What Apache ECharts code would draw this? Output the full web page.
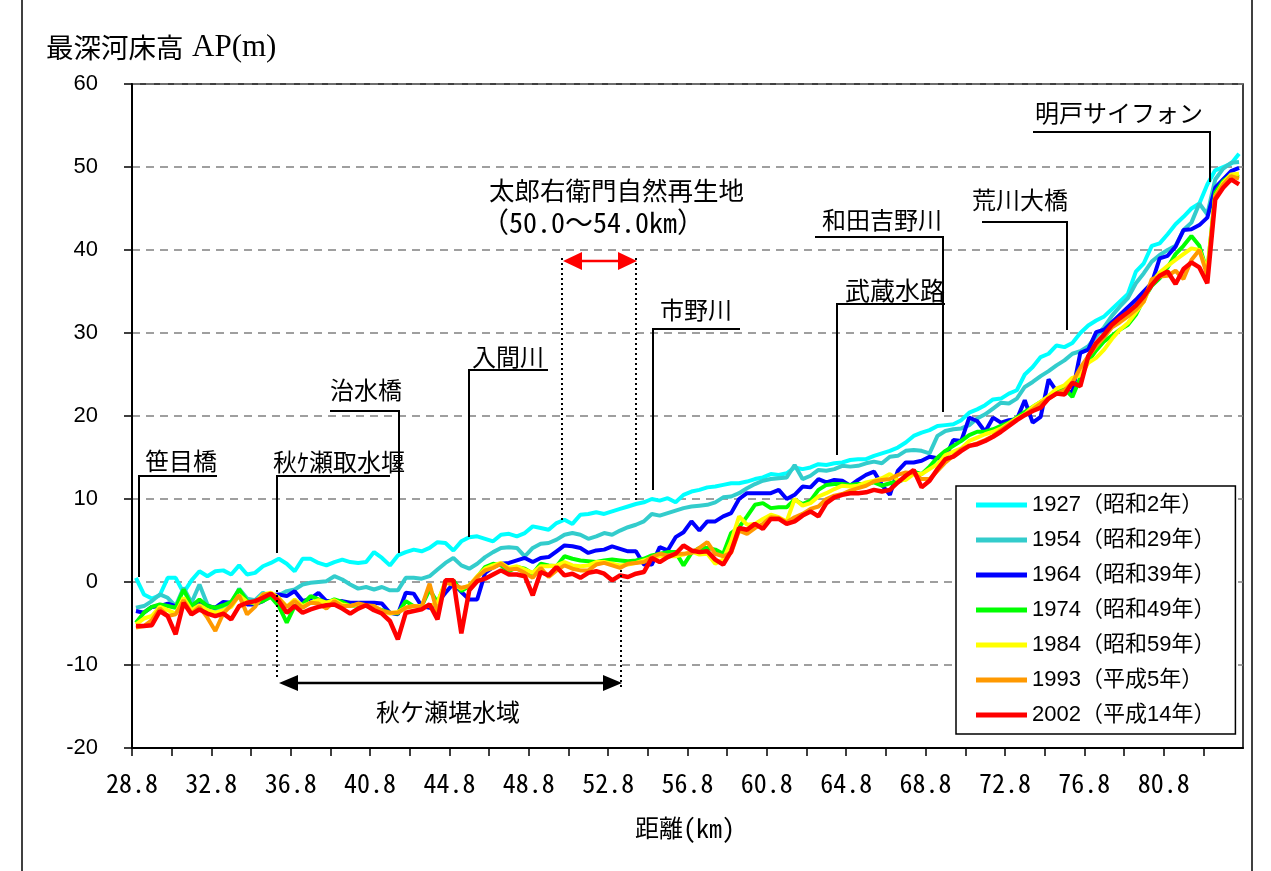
<!DOCTYPE html>
<html><head><meta charset="utf-8">
<script src="https://cdn.jsdelivr.net/npm/echarts/dist/echarts.min.js"></script>
<style>html,body{margin:0;padding:0;background:#fff}#chart{width:1271px;height:871px}</style>
</head><body><div id="chart"></div>
<script>
// distance along the river (km)
const km = [29.0,29.4,29.8,30.2,30.6,31.0,31.4,31.8,32.2,32.6,33.0,33.4,33.8,34.2,34.6,35.0,35.4,35.8,36.2,36.6,37.0,37.4,37.8,38.2,38.6,
39.0,39.4,39.8,40.2,40.6,41.0,41.4,41.8,42.2,42.6,43.0,43.4,43.8,44.2,44.6,45.0,45.4,45.8,46.2,46.6,47.0,47.4,47.8,48.2,48.6,49.0,49.4,
49.8,50.2,50.6,51.0,51.4,51.8,52.2,52.6,53.0,53.4,53.8,54.2,54.6,55.0,55.4,55.8,56.2,56.6,57.0,57.4,57.8,58.2,58.6,59.0,59.4,59.8,
60.2,60.6,61.0,61.4,61.8,62.2,62.6,63.0,63.4,63.8,64.2,64.6,65.0,65.4,65.8,66.2,66.6,67.0,67.4,67.8,68.2,68.6,69.0,69.4,69.8,70.2,70.6,
71.0,71.4,71.8,72.2,72.6,73.0,73.4,73.8,74.2,74.6,75.0,75.4,75.8,76.2,76.6,77.0,77.4,77.8,78.2,78.6,79.0,79.4,79.8,80.2,80.6,81.0,81.4,81.8,82.2,82.6,83.0,83.4,83.8,84.2,84.6];

const y1927 = [0.5,-1.5,-2.0,-1.6,0.5,0.5,-1.3,0.2,1.3,0.7,1.3,1.4,0.9,2.0,0.9,1.1,1.9,2.3,2.8,2.2,1.3,2.8,2.8,2.3,2.0,
2.4,2.7,2.4,2.3,2.4,3.6,2.9,2.0,3.2,3.6,3.9,3.7,4.1,4.8,4.7,3.8,4.9,5.4,5.5,5.2,4.9,5.7,5.8,5.5,5.9,6.7,6.5,
6.3,7.1,7.5,7.0,8.1,8.2,8.4,8.2,8.5,8.8,9.1,9.4,9.6,10.0,9.8,10.1,9.6,10.5,10.9,11.1,11.4,11.5,11.7,11.9,11.9,12.1,
12.4,12.6,13.0,12.9,13.1,13.8,13.6,13.8,14.2,14.1,14.3,14.4,14.7,14.8,14.8,15.2,15.5,15.8,16.2,16.8,17.6,18.0,18.3,18.8,18.9,19.0,19.5,
20.4,20.8,21.3,22.0,22.1,22.7,23.1,25.0,25.9,27.1,27.5,28.5,28.3,28.8,30.0,30.9,31.5,32.0,32.9,33.8,34.7,37.4,38.4,40.5,40.8,41.9,43.1,44.0,45.0,45.6,47.9,49.6,50.0,50.4,51.6];

const y1954 = [-3.1,-2.9,-2.3,-1.5,-1.9,-2.9,-0.7,-2.5,-0.3,-2.7,-3.5,-3.0,-2.6,-0.8,-2.0,-2.2,-1.3,-1.8,-1.6,-1.1,-0.9,-0.3,-0.1,0.0,0.1,
0.7,0.3,-0.3,-0.8,-0.6,-0.9,-0.6,-1.0,-1.0,0.5,0.5,0.4,0.7,1.5,2.3,2.9,2.0,1.6,2.2,3.0,3.6,4.1,4.2,4.1,3.1,4.1,4.6,
4.7,5.1,5.7,5.9,5.7,5.2,5.5,5.9,5.7,6.2,6.6,6.9,7.3,8.2,8.0,8.3,8.6,8.9,9.1,9.2,9.3,9.6,10.2,10.3,10.7,11.3,
11.8,12.2,12.4,12.5,12.6,14.1,12.4,12.8,13.5,13.4,13.6,14.0,13.9,14.0,14.3,14.5,14.3,15.1,15.2,15.8,15.9,15.8,15.5,17.6,18.2,18.4,18.5,
18.9,19.7,20.2,20.9,21.6,21.5,22.1,23.5,24.1,24.8,25.4,26.1,26.7,27.5,27.8,28.4,29.6,30.7,32.1,33.2,34.2,36.0,37.2,38.6,39.4,40.0,40.5,42.4,43.3,45.6,44.3,48.5,49.8,50.5,50.6];

const y1964 = [-3.5,-3.7,-3.0,-2.9,-2.6,-2.9,-2.7,-3.1,-2.4,-2.9,-3.1,-2.4,-2.5,-1.7,-2.7,-2.7,-2.3,-1.6,-1.5,-1.7,-1.1,-2.3,-2.0,-1.3,-2.3,
-2.3,-2.3,-2.5,-2.5,-2.5,-2.5,-2.6,-3.7,-3.9,-1.3,-1.4,-2.9,-3.1,-2.5,-1.3,-0.2,-1.2,-2.1,-2.1,1.1,1.8,2.2,2.3,2.6,2.9,2.4,2.9,
3.0,3.7,4.4,4.3,4.1,3.5,3.8,3.9,4.3,4.0,3.7,3.7,2.1,2.1,4.2,3.8,5.4,6.0,7.3,6.2,7.3,7.3,7.9,8.3,10.0,10.7,
10.7,10.7,10.7,11.1,10.0,10.5,11.5,11.4,12.4,12.0,12.3,12.2,11.6,12.3,12.9,13.3,11.7,10.5,13.4,14.4,14.4,14.6,15.1,14.9,15.0,17.1,17.0,
19.8,19.4,18.1,19.8,19.2,19.5,19.6,21.9,19.2,19.9,24.4,23.0,23.1,22.8,27.6,28.0,30.1,30.4,31.3,32.2,33.1,34.0,35.0,36.0,39.0,39.3,40.4,42.4,42.5,43.0,43.9,47.5,48.5,49.5,49.9];

const y1974 = [-4.9,-3.7,-3.0,-2.7,-2.9,-3.1,-0.9,-2.9,-2.1,-2.9,-3.1,-2.8,-2.4,-0.9,-2.3,-2.6,-2.3,-1.8,-2.9,-4.9,-2.9,-2.7,-1.7,-2.1,-2.5,
-2.1,-2.4,-2.9,-2.8,-2.9,-3.1,-3.4,-3.7,-3.8,-2.3,-2.9,-2.9,-0.9,-2.5,-0.1,0.2,-1.1,-0.5,0.6,1.8,2.2,2.0,1.3,1.8,1.6,1.0,2.2,
2.0,1.9,3.1,2.8,2.6,2.5,2.4,2.6,2.7,2.6,2.5,2.6,2.8,3.2,3.4,3.6,3.6,2.0,3.5,4.1,4.1,3.9,3.4,5.9,6.6,7.9,
9.3,9.5,8.9,9.0,9.0,9.9,9.4,9.8,11.1,11.7,11.8,11.8,11.7,11.8,11.8,12.0,11.6,11.9,12.1,12.4,13.3,13.0,13.9,15.0,15.8,16.4,17.0,
17.7,18.1,18.1,18.4,18.8,19.2,19.8,20.5,21.1,21.7,22.3,22.9,23.3,22.3,24.6,26.6,27.9,29.0,29.7,30.4,31.0,32.2,34.1,35.7,36.6,37.9,39.5,40.5,41.7,40.5,37.3,46.9,48.3,49.0,48.8];

const y1984 = [-5.1,-4.4,-4.1,-3.0,-3.4,-3.8,-1.9,-3.4,-2.8,-3.4,-3.7,-3.4,-3.0,-1.6,-2.4,-2.5,-1.5,-1.3,-1.9,-3.0,-2.1,-2.9,-2.5,-2.2,-2.5,
-2.2,-2.7,-2.9,-2.7,-2.9,-2.9,-3.5,-3.8,-3.6,-3.1,-2.9,-2.9,-2.9,-2.5,0.1,-0.3,-0.8,-0.4,0.7,1.6,2.0,2.3,1.7,1.9,1.5,1.1,1.9,
1.9,2.0,2.4,2.0,1.9,2.0,2.4,2.4,2.2,2.0,2.1,2.3,2.6,2.9,3.1,3.1,3.1,3.3,3.7,3.3,3.4,2.2,2.7,4.9,7.9,6.9,
7.0,7.6,8.1,7.8,7.3,10.0,9.2,9.5,10.3,10.7,11.2,11.6,11.5,11.6,12.0,12.2,12.5,13.0,12.3,12.3,13.0,13.0,13.6,14.2,15.3,15.7,16.1,
17.0,17.4,17.8,18.1,18.5,19.1,19.7,20.2,21.1,21.7,22.4,23.3,23.7,24.6,24.9,26.4,27.0,28.0,29.3,30.4,31.2,32.5,33.8,36.1,37.3,38.1,38.8,39.5,40.2,40.0,37.5,46.5,48.1,49.1,49.2];

const y1993 = [-5.5,-5.3,-4.6,-3.2,-4.1,-3.9,-2.2,-3.8,-3.0,-4.3,-5.9,-3.8,-2.8,-1.6,-3.9,-3.0,-1.5,-1.4,-2.0,-3.0,-2.3,-3.1,-2.5,-2.6,-3.2,
-2.3,-2.9,-2.9,-2.6,-2.8,-2.9,-3.5,-3.7,-3.7,-3.1,-2.9,-3.0,-0.2,-3.8,-0.1,-0.3,-0.7,-0.5,0.6,1.4,1.7,2.2,1.5,1.6,1.1,0.5,1.7,
0.6,1.4,2.0,1.6,1.4,1.4,2.1,2.3,2.0,1.7,2.2,2.3,2.4,3.0,3.4,3.2,3.4,3.4,3.5,4.1,4.8,3.4,3.1,3.5,6.2,5.8,
6.5,7.0,7.8,7.7,7.2,7.8,8.2,8.8,9.1,10.0,10.4,10.6,11.0,11.3,11.6,12.1,12.3,12.4,12.9,13.2,13.1,12.4,12.4,13.4,14.4,15.2,16.0,
16.4,16.7,17.1,17.6,18.3,19.0,19.6,20.2,20.8,21.5,22.1,22.7,23.1,24.0,25.8,27.2,28.4,29.5,30.7,31.3,32.0,32.8,33.8,36.5,36.8,36.9,37.5,36.5,38.8,40.0,36.9,46.5,47.9,48.9,48.6];

const y2002 = [-5.3,-5.3,-5.2,-3.5,-4.1,-6.3,-2.5,-3.9,-3.3,-3.8,-4.1,-3.8,-4.5,-2.9,-2.5,-2.3,-1.9,-1.4,-2.3,-3.7,-2.9,-3.7,-3.3,-3.0,-2.8,
-2.7,-3.2,-3.8,-3.2,-2.8,-3.4,-3.8,-4.7,-6.9,-3.7,-3.5,-3.3,-2.7,-4.5,0.2,0.2,-6.2,-1.0,0.1,0.4,0.9,1.4,0.9,0.9,0.7,-1.6,1.2,
0.8,1.8,0.8,1.0,0.5,1.1,1.3,1.0,0.2,0.8,0.6,1.0,1.2,2.9,2.4,3.0,3.4,4.4,3.8,3.6,3.7,2.7,2.1,3.7,6.5,6.3,
7.0,6.4,7.6,7.6,7.0,7.3,8.0,8.5,7.9,9.5,10.2,10.5,10.7,10.7,10.8,11.1,10.9,11.1,12.0,12.8,13.5,11.4,12.2,13.6,14.8,15.1,15.8,
16.4,16.6,17.0,17.5,18.1,18.8,19.5,20.1,20.6,21.0,22.1,22.7,22.6,24.0,23.6,27.2,28.8,29.8,31.0,31.8,32.5,33.3,34.4,35.8,36.9,37.4,35.9,37.7,38.5,37.9,36.0,46.1,47.5,48.5,47.9];

const seriesNames = ['1927（昭和2年）','1954（昭和29年）','1964（昭和39年）','1974（昭和49年）','1984（昭和59年）','1993（平成5年）','2002（平成14年）'];
const seriesValues = [y1927, y1954, y1964, y1974, y1984, y1993, y2002];
const colors = ['#00FFFF','#33CCCC','#0000FF','#00FF00','#FFFF00','#FF9900','#FF0000'];
const KM0 = 28.8; // first tick label of the distance axis

const CJK = "'Noto Sans CJK JP', sans-serif";
const MONO = "'Noto Sans Mono CJK JP', 'DejaVu Sans Mono', monospace";
const SANS = "'Liberation Sans', 'Noto Sans CJK JP', sans-serif";

const chart = echarts.init(document.getElementById('chart'), null, {renderer: 'canvas'});

const series = seriesNames.map((n, i) => ({
  name: n, type: 'line', symbol: 'none', smooth: false, animation: false,
  z: 2 + i,
  data: km.map((k, j) => [Math.round((k - KM0) * 10) / 10, seriesValues[i][j]]),
  lineStyle: {color: colors[i], width: i === 6 ? 4.5 : 4},
  itemStyle: {color: colors[i]}
}));

function txt(x, y, text, font, align) {
  return {type: 'text', x: x, y: y, z: 100,
    style: {text: text, font: font, fill: '#000', align: align || 'left', verticalAlign: 'middle'}};
}
function pl(points, dash) {
  return {type: 'polyline', z: 90, shape: {points: points},
    style: {stroke: '#000', lineWidth: 2, fill: null, lineDash: dash || null}};
}
function tri(points, color) {
  return {type: 'polygon', z: 95, shape: {points: points}, style: {fill: color, stroke: null}};
}
const F = '24px ' + CJK;

const graphic = [
  // outer frame
  {type: 'line', z: 50, shape: {x1: 22, y1: 0, x2: 22, y2: 871}, style: {stroke: '#000', lineWidth: 1.5}},
  {type: 'line', z: 50, shape: {x1: 1252, y1: 0, x2: 1252, y2: 871}, style: {stroke: '#000', lineWidth: 1.5}},
  // y axis title
  txt(46, 48, '最深河床高', '27.5px ' + CJK),
  txt(192, 48, 'AP(m)', "31px 'Liberation Serif', serif"),
  // x axis title
  {type: 'text', x: 685, y: 828, z: 100, style: {
    text: '{a|距離}{b|(km)}', align: 'center', verticalAlign: 'middle', fill: '#000',
    rich: {a: {fontFamily: 'Noto Sans CJK JP', fontSize: 24, fill: '#000'},
           b: {fontFamily: MONO, fontSize: 26, fill: '#000'}}}},
  // annotations
  txt(145, 461, '笹目橋', F), pl([[217, 476], [139, 476], [139, 577]]),
  txt(273, 462, '秋ｹ瀬取水堰', F), pl([[390, 476], [277, 476], [277, 553]]),
  txt(330, 390, '治水橋', F), pl([[330, 411], [399, 411], [399, 553]]),
  txt(472, 357, '入間川', F), pl([[548, 370], [469, 370], [469, 537]]),
  txt(660, 310, '市野川', F), pl([[740, 329], [653, 329], [653, 490]]),
  txt(822, 220, '和田吉野川', F), pl([[815, 237], [943, 237], [943, 412]]),
  txt(845, 290, '武蔵水路', '25px ' + CJK), pl([[945, 304], [837, 304], [837, 455]]),
  txt(972, 200, '荒川大橋', F), pl([[982, 222], [1067, 222], [1067, 330]]),
  txt(1035, 113, '明戸サイフォン', F), pl([[1033, 132], [1210, 132], [1210, 182]]),
  txt(489, 190, '太郎右衛門自然再生地', '25.5px ' + CJK),
  txt(481, 222, '（50.0～54.0km）', '28px ' + MONO),
  // restoration area range
  pl([[562, 258], [562, 522]], [2, 3]),
  pl([[636, 258], [636, 502]], [2, 3]),
  {type: 'line', z: 94, shape: {x1: 578, y1: 261, x2: 622, y2: 261}, style: {stroke: '#FF0000', lineWidth: 2.5}},
  tri([[563, 261], [582, 252], [582, 270]], '#FF0000'),
  tri([[637, 261], [618, 252], [618, 270]], '#FF0000'),
  // impounded area range
  pl([[277, 590], [277, 680]], [2, 3]),
  pl([[621, 570], [621, 690]], [2, 3]),
  {type: 'line', z: 94, shape: {x1: 295, y1: 683, x2: 606, y2: 683}, style: {stroke: '#000', lineWidth: 2.5}},
  tri([[279, 683], [298, 675], [298, 691]], '#000'),
  tri([[622, 683], [603, 675], [603, 691]], '#000'),
  txt(448, 712, '秋ケ瀬堪水域', F, 'center')
];

const option = {
  animation: false,
  backgroundColor: '#fff',
  grid: {left: 132, right: 28, top: 84, bottom: 123, show: true, borderColor: '#000', borderWidth: 1.5, backgroundColor: '#fff'},
  xAxis: {
    type: 'value', min: 0, max: 56, interval: 2,
    axisLine: {show: true, onZero: false, lineStyle: {color: '#000', width: 2}},
    axisTick: {show: true, length: 8, lineStyle: {color: '#000', width: 1.5}},
    axisLabel: {
      color: '#000', fontFamily: MONO, fontSize: 26, margin: 22, showMaxLabel: false,
      formatter: v => (Math.round(v) % 4 === 0 ? (v + KM0).toFixed(1) : '')
    },
    splitLine: {show: false}
  },
  yAxis: {
    type: 'value', min: -20, max: 60, interval: 10,
    axisLine: {show: true, lineStyle: {color: '#000', width: 2}},
    axisTick: {show: true, length: 8, lineStyle: {color: '#000', width: 1.5}},
    axisLabel: {color: '#000', fontFamily: SANS, fontSize: 22, margin: 34},
    splitLine: {show: true, lineStyle: {color: '#808080', width: 1.5, type: [8, 6]}}
  },
  legend: {
    orient: 'vertical', left: 956, top: 486,
    backgroundColor: '#fff', borderColor: '#000', borderWidth: 1.5,
    padding: [7, 20, 7, 20], itemGap: 11,
    icon: 'rect', itemWidth: 51, itemHeight: 5,
    textStyle: {color: '#000', fontFamily: SANS, fontSize: 22, lineHeight: 24},
    data: seriesNames
  },
  series: series,
  graphic: graphic
};
chart.setOption(option);
</script>
</body></html>
